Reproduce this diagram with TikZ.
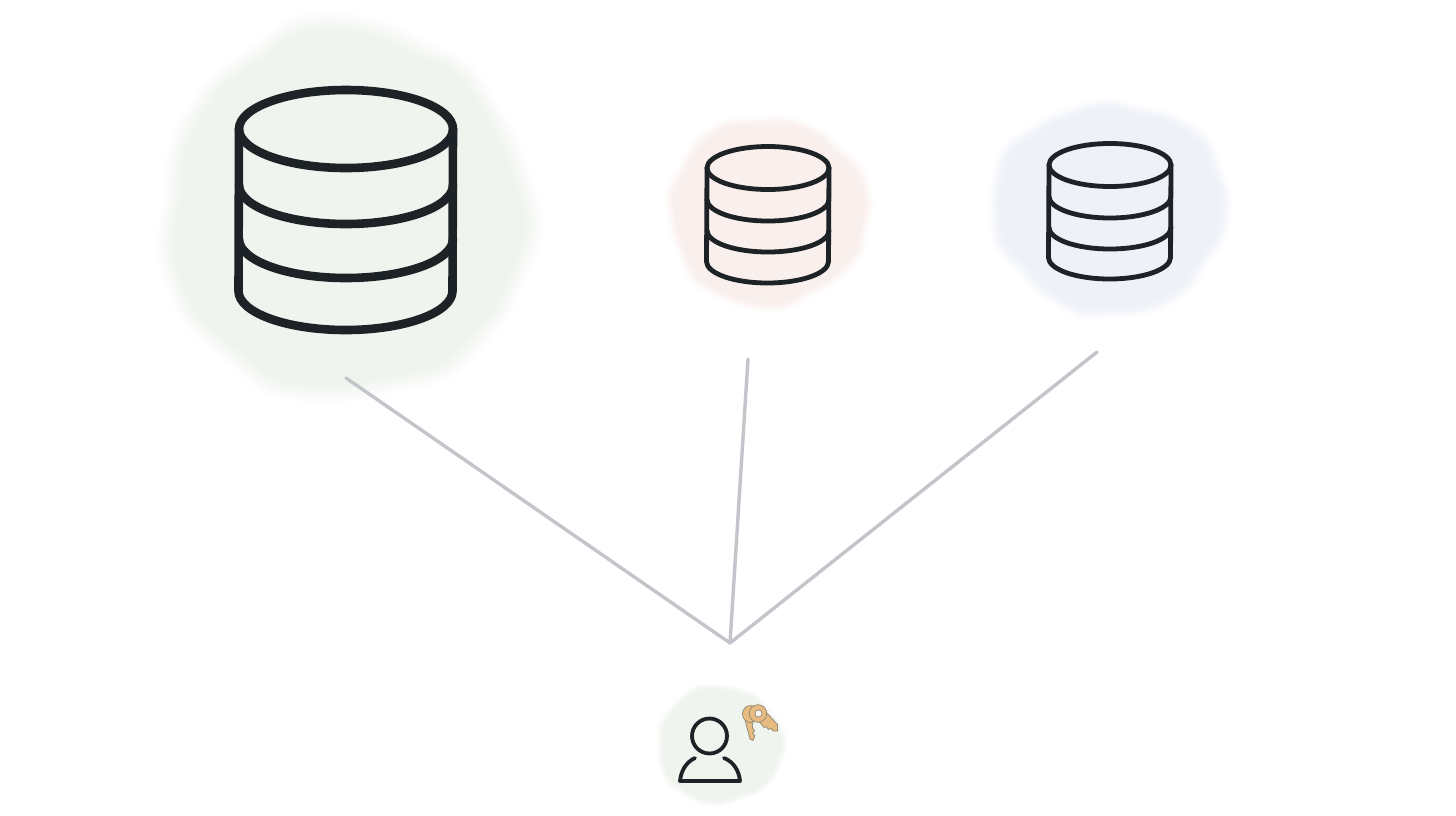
\documentclass[tikz,border=0pt]{standalone}
\definecolor{ink}{HTML}{1C2226}
\definecolor{wire}{HTML}{C4C5CA}
\definecolor{sage}{HTML}{F0F4EE}
\definecolor{blush}{HTML}{F9EFEC}
\definecolor{mist}{HTML}{EEF1F8}
\definecolor{keygold}{HTML}{E6BC80}
\definecolor{keyedge}{HTML}{8E8674}
\tikzset{
  wireline/.style={draw=wire,line width=3.4pt,line cap=round},
  inkline/.style={draw=ink,line cap=round,line join=round},
  keyshape/.style={fill=keygold,draw=keyedge,line width=.7pt,line join=round},
}
% blob: cx cy rx ry colour phase
\newcommand{\softblob}[6]{%
  \foreach \s/\p in {1.04/8,1.03/16,1.02/25,1.01/34,1.0/44,.99/54,.98/64,.97/73,.96/82,.95/90,.94/96,.93/100}{%
    \fill[#5!\p!white] plot[domain=0:352,samples=45,smooth cycle]
      ({#1+\s*#3*(1+.022*sin(3*\x+#6)+.018*sin(7*\x+2*#6)+.008*sin(13*\x+#6))*cos(\x)},
       {#2+\s*#4*(1+.022*sin(3*\x+#6)+.018*sin(7*\x+2*#6)+.008*sin(13*\x+#6))*sin(\x)});
  }%
}
% db icon: cx, top ellipse cy, rx, ry, body arc bottoms y1 y2 y3, lw
\newcommand{\dbicon}[8]{%
  \begin{scope}[inkline,line width=#8pt]
    \draw (#1,#2) ellipse [x radius=#3,y radius=#4];
    \draw (#1-#3,#2) -- (#1-#3-.5,#7-#4);
    \draw (#1+#3,#2) -- (#1+#3-.5,#7-#4);
    \draw (#1-#3,#5-#4) arc [start angle=180,end angle=360,x radius=#3,y radius=-#4];
    \draw (#1-#3,#6-#4) arc [start angle=180,end angle=360,x radius=#3,y radius=-#4];
    \draw (#1-#3-.5,#7-#4) arc [start angle=180,end angle=360,x radius=#3,y radius=-#4];
  \end{scope}%
}
\begin{document}
\begin{tikzpicture}[x=1pt,y=-1pt]
\useasboundingbox (0,0) rectangle (1456,815);
\fill[white] (0,0) rectangle (1456,815);
\softblob{346}{212}{184}{188}{sage}{30}
\softblob{768}{212}{100}{95}{blush}{110}
\softblob{1110}{208}{118}{106}{mist}{200}
\softblob{720}{745}{63}{59}{sage}{70}

\coordinate (hub) at (730,643);
\coordinate (dbA) at (346,378);
\coordinate (dbB) at (748,359);
\coordinate (dbC) at (1097,352);
\draw[wireline] (dbA) -- (hub);
\draw[wireline] (dbB) -- (hub);
\draw[wireline] (dbC) -- (hub);

\dbicon{346}{129}{107}{39}{224}{278}{330}{8.6}
\dbicon{768}{168}{61}{21.5}{221}{252}{283}{4.8}
\dbicon{1110}{165}{61}{21.5}{218}{249}{279}{4.8}

% person
\draw[inkline,line width=3.8pt] (709.5,736) circle [radius=17.5];
\draw[inkline,line width=3.8pt] (695,758) .. controls (686,762) and (681,771) .. (680,781) -- (740,781) .. controls (739,771) and (734,762) .. (724,758);

% back key
\path[keyshape] (744,716) -- (750,739) -- (753,740.5) -- (755,735.5) -- (752.5,733.5) -- (754.5,731) -- (752.5,728) -- (753,718) -- cycle;
\path[keyshape] (750.5,714) ellipse [x radius=8,y radius=8.5];
% front key
\path[keyshape] (764,710) -- (777.5,724.5) -- (777.5,731) -- (773,731) -- (771,728) -- (768.5,729.5) -- (766,726.5) -- (764,727.5) -- (757,719) -- cycle;
\path[keyshape] (758,713.5) circle [radius=8.8];
\fill[white!88!keygold] (758.5,713.5) circle [radius=3.6];
\draw[keyedge,line width=.7pt] (758.5,713.5) circle [radius=3.6];
\end{tikzpicture}
\end{document}
